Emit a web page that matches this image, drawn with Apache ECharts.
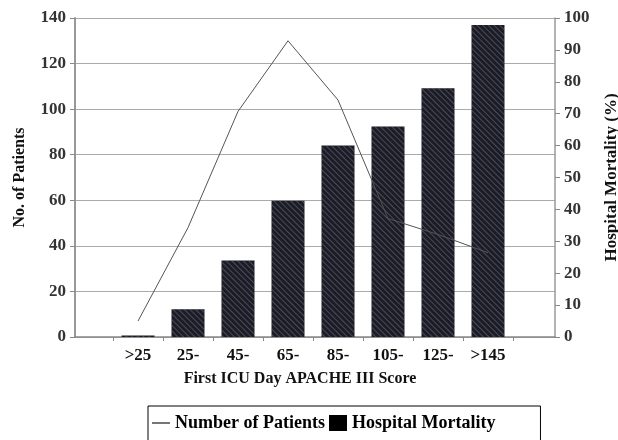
<!DOCTYPE html>
<html>
<head>
<meta charset="utf-8">
<script src="https://cdn.jsdelivr.net/npm/echarts@6/dist/echarts.min.js"></script>
<style>html,body{margin:0;padding:0;background:#fff}#c{width:618px;height:440px}</style>
</head>
<body>
<div id="c"></div>
<script>
const categories = ['>25', '25-', '45-', '65-', '85-', '105-', '125-', '>145'];
const patients = [7, 48, 99, 130, 104, 52, 45, 37];
const mortality = [0.5, 8.7, 24, 42.7, 60, 66, 78, 97.8];
const patientTicks = { min: 0, max: 140, interval: 20 };
const mortalityTicks = { min: 0, max: 100, interval: 10 };

const FONT = '"Liberation Serif", "Times New Roman", serif';
const lab = { fontFamily: FONT, fontWeight: 'bold', fontSize: 17, color: '#333' };
const legendText = { fontFamily: FONT, fontWeight: 'bold', fontSize: 18, color: '#000' };
const chart = echarts.init(document.getElementById('c'), null, { renderer: 'canvas' });
chart.setOption({
  backgroundColor: '#fff',
  animation: false,
  grid: [
    { left: 75, right: 63, top: 18, bottom: 103, outerBoundsMode: 'none', containLabel: false },
    { left: 113, right: 105, top: 18, bottom: 103, outerBoundsMode: 'none', containLabel: false }
  ],
  xAxis: [
    { gridIndex: 0, type: 'value', min: 0, max: 1,
      axisLine: { show: true, lineStyle: { color: '#888', width: 1.5 } },
      axisTick: { show: false }, axisLabel: { show: false }, splitLine: { show: false },
      name: 'First ICU Day APACHE III Score', nameLocation: 'middle', nameGap: 34,
      nameTextStyle: Object.assign({}, lab, { fontSize: 16, color: '#111', padding: [0, 30, 0, 0] }) },
    { gridIndex: 1, type: 'category', data: categories,
      axisLine: { show: false },
      axisTick: { show: true, length: 4, lineStyle: { color: '#888' } },
      axisLabel: Object.assign({}, lab, { color: '#111', margin: 10 }),
      splitLine: { show: false } }
  ],
  yAxis: [
    { gridIndex: 0, type: 'value', position: 'left',
      min: patientTicks.min, max: patientTicks.max, interval: patientTicks.interval,
      name: 'No. of Patients', nameLocation: 'middle', nameGap: 47,
      nameTextStyle: Object.assign({}, lab, { fontSize: 16, color: '#111' }),
      axisLine: { show: true, lineStyle: { color: '#999', width: 2 } },
      axisTick: { show: true, length: 5, lineStyle: { color: '#888' } },
      axisLabel: Object.assign({}, lab, { margin: 9 }),
      splitLine: { show: true, lineStyle: { color: '#aaa', width: 1 } } },
    { gridIndex: 0, type: 'value', position: 'right',
      min: mortalityTicks.min, max: mortalityTicks.max, interval: mortalityTicks.interval,
      name: 'Hospital Mortality (%)', nameLocation: 'middle', nameGap: 48,
      nameRotate: 90,
      nameTextStyle: Object.assign({}, lab, { color: '#111' }),
      axisLine: { show: true, lineStyle: { color: '#999', width: 1.5 } },
      axisTick: { show: true, length: 5, lineStyle: { color: '#888' } },
      axisLabel: Object.assign({}, lab, { margin: 9 }),
      splitLine: { show: false } },
    { gridIndex: 1, type: 'value', min: patientTicks.min, max: patientTicks.max, show: false, splitLine: { show: false } },
    { gridIndex: 1, type: 'value', min: mortalityTicks.min, max: mortalityTicks.max, show: false, splitLine: { show: false } }
  ],
  legend: {
    left: 148, top: 406,
    padding: [8, 45, 30, 4],
    borderColor: '#000', borderWidth: 1,
    itemGap: 4, itemWidth: 18, itemHeight: 16,
    textStyle: legendText,
    data: [
      { name: 'Number of Patients', icon: 'path://M0,5L10,5L10,5.6L0,5.6Z', itemStyle: { color: '#000' }, textStyle: legendText },
      { name: 'Hospital Mortality', icon: 'rect', itemStyle: { color: '#000', decal: 'none' }, textStyle: legendText }
    ]
  },
  series: [
    { name: 'Hospital Mortality', type: 'bar', xAxisIndex: 1, yAxisIndex: 3,
      data: mortality, barWidth: 33, z: 2,
      itemStyle: { color: '#1c1c26',
        decal: { symbol: 'rect', symbolSize: 1, dashArrayX: [1, 0], dashArrayY: [1, 3],
                 rotation: Math.PI / 4, color: 'rgba(130,130,150,0.45)' } } },
    { name: 'Number of Patients', type: 'line', xAxisIndex: 1, yAxisIndex: 2,
      data: patients, symbol: 'none', z: 3,
      lineStyle: { color: '#555', width: 1 }, itemStyle: { color: '#000' } }
  ]
});
</script>
</body>
</html>
